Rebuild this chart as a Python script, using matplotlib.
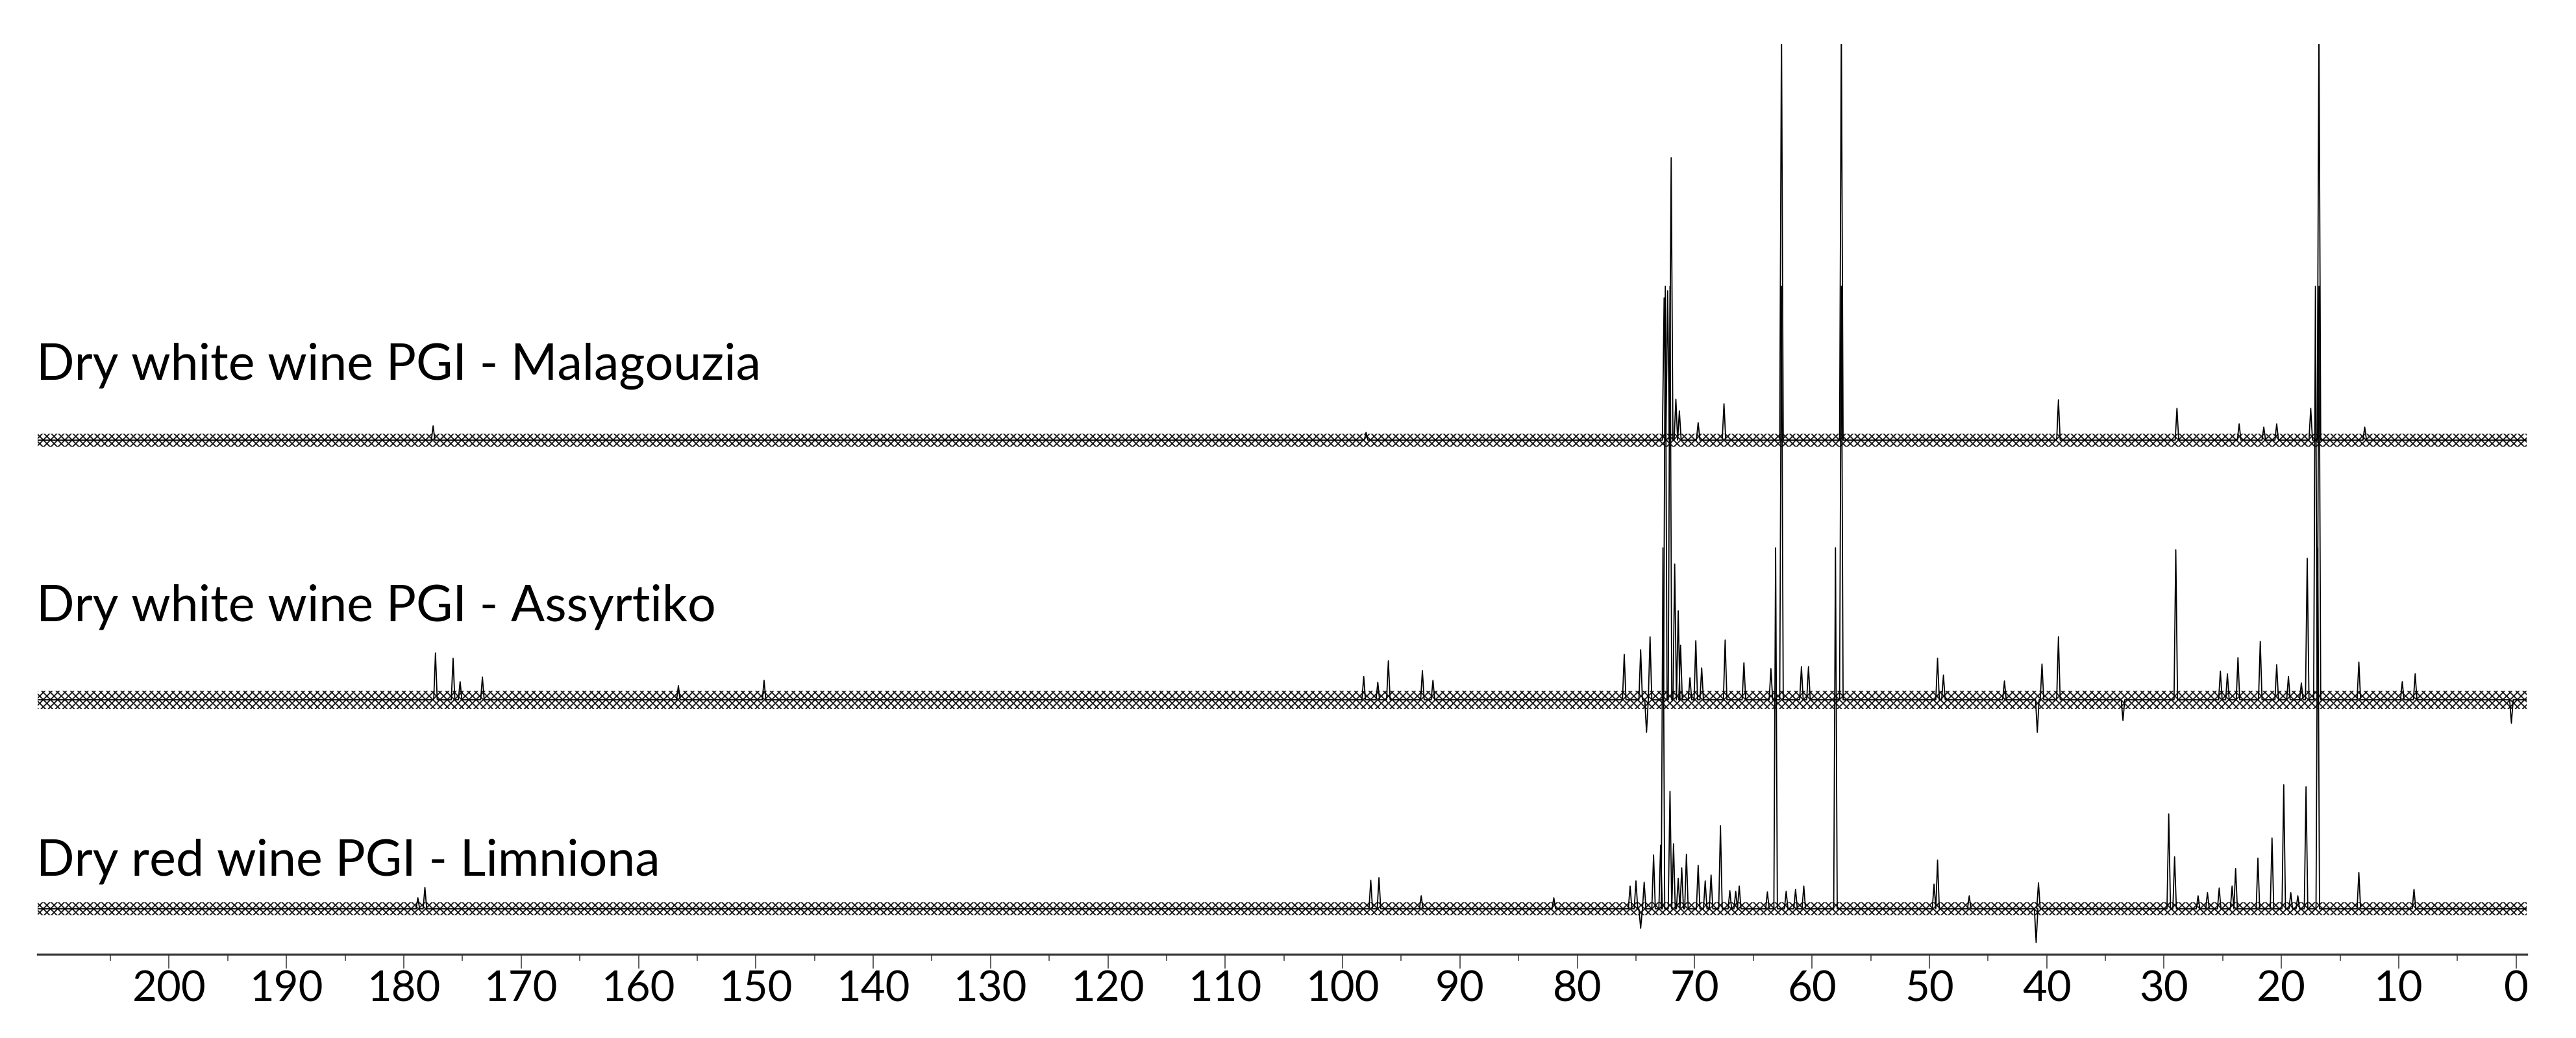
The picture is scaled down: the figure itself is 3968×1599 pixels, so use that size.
import matplotlib
matplotlib.use("Agg")
import matplotlib.pyplot as plt

plt.rcParams["font.family"] = ["Lato", "DejaVu Sans"]
plt.rcParams["hatch.linewidth"] = 1.4

# sample names, top to bottom
labels = ["Dry white wine PGI - Malagouzia",
          "Dry white wine PGI - Assyrtiko",
          "Dry red wine PGI - Limniona"]

# peak positions (ppm) and heights above each trace's baseline (px as read)
malagouzia_ppm = [177.5, 98.0, 72.6, 72.3, 72.0, 71.6, 71.3, 69.7, 67.5, 62.6, 57.5,
                  39.0, 28.9, 23.6, 21.5, 20.4, 17.5, 16.8, 12.9]
malagouzia_h = [22, 12, 219, 230, 435, 63, 45, 27, 56, 640, 640,
                62, 49, 25, 20, 25, 49, 640, 20]

assyrtiko_ppm = [177.3, 175.8, 175.2, 173.3, 156.6, 149.3, 98.2, 97.0, 96.1, 93.2, 92.3,
                 76.0, 74.6, 74.1, 73.8, 72.5, 72.1, 71.7, 71.4, 71.2, 70.4, 69.9, 69.4,
                 67.4, 65.8, 63.5, 62.6, 60.9, 60.3, 57.5, 49.3, 48.8, 43.6, 40.8, 40.4,
                 39.0, 33.5, 29.0, 25.2, 24.6, 23.7, 21.8, 20.4, 19.4, 18.3, 17.8, 17.1,
                 16.8, 13.4, 9.7, 8.6, 0.4]
assyrtiko_h = [72, 64, 28, 35, 22, 30, 36, 27, 60, 45, 30,
               70, 77, -50, 97, 637, 637, 209, 137, 84, 34, 91, 49,
               92, 57, 48, 637, 51, 51, 637, 64, 38, 29, -50, 55,
               97, -32, 231, 44, 40, 65, 90, 54, 36, 26, 218, 637,
               637, 58, 28, 40, -36]

limniona_ppm = [178.8, 178.2, 97.6, 96.9, 93.3, 82.0, 75.5, 75.0, 74.6, 74.3, 73.5,
                72.9, 72.7, 72.1, 71.8, 71.4, 71.1, 70.7, 69.7, 69.1, 68.6, 67.8, 67.0,
                66.5, 66.2, 63.8, 63.1, 62.2, 61.4, 60.7, 58.0, 49.6, 49.3, 46.6, 40.9,
                40.7, 29.6, 29.1, 27.1, 26.3, 25.3, 24.2, 23.9, 22.0, 20.8, 19.8, 19.2,
                18.6, 17.9, 16.9, 13.4, 8.7]
limniona_h = [17, 33, 44, 48, 20, 17, 35, 43, -30, 41, 83,
              98, 556, 181, 100, 47, 63, 84, 67, 43, 52, 128, 28,
              27, 35, 26, 556, 27, 30, 35, 556, 38, 75, 20, -52,
              40, 146, 80, 20, 25, 32, 35, 62, 78, 109, 191, 25,
              20, 188, 556, 56, 30]

baselines = [792, 392, 70]
noise = [10, 14, 10]

major_ticks = list(range(0, 201, 10))
minor_ticks = list(range(5, 211, 10))

x_left, x_right = 211.2, -0.9
w = 0.15

fig = plt.figure(figsize=(39.68, 15.99), dpi=100)
ax = fig.add_axes([58 / 3968, 129 / 1599, (3892 - 58) / 3968, (1470 - 68) / 1599])

spectra = [(malagouzia_ppm, malagouzia_h),
           (assyrtiko_ppm, assyrtiko_h),
           (limniona_ppm, limniona_h)]

for (ppm, hh), base, nz in zip(spectra, baselines, noise):
    # noisy baseline band
    ax.fill_between([x_left, x_right], base - nz, base + nz, facecolor="none",
                    edgecolor="#1a1a1a", hatch="xxx", linewidth=0)
    xs = [x_left]
    ys = [base]
    for p, h in sorted(zip(ppm, hh), reverse=True):
        xs += [p + w, p, p - w]
        ys += [base, base + h, base]
    xs.append(x_right)
    ys.append(base)
    ax.plot(xs, ys, color="black", lw=1.3)

ax.set_xlim(x_left, x_right)
ax.set_ylim(0, 1402)

for s in ["top", "left", "right"]:
    ax.spines[s].set_visible(False)
ax.spines["bottom"].set_linewidth(2.4)
ax.spines["bottom"].set_color("#333333")

ax.set_yticks([])
ax.set_xticks(major_ticks)
ax.set_xticks(minor_ticks, minor=True)
ax.tick_params(axis="x", which="major", direction="out", length=15.8, width=1.1,
               color="#333333", pad=2, labelsize=47)
ax.tick_params(axis="x", which="minor", direction="out", length=7.2, width=1.1,
               color="#333333")

label_base = [585, 957, 1349]
for t, yb in zip(labels, label_base):
    fig.text(56 / 3968, (1599 - yb) / 1599, t, fontsize=55.5, va="baseline", ha="left")

fig.savefig("out.png", dpi=100)
